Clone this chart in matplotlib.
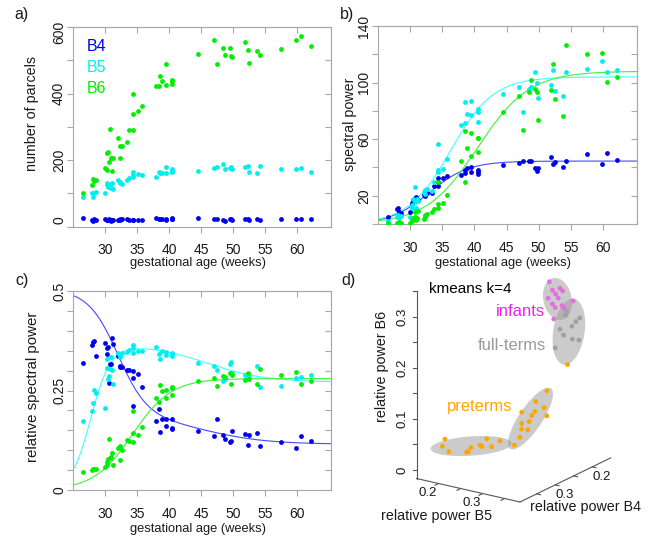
import numpy as np
import matplotlib.pyplot as plt
from matplotlib.patches import Ellipse
from matplotlib.transforms import ScaledTranslation

plt.rcParams['font.family'] = ['Liberation Sans', 'DejaVu Sans']

# gestational age of each recording (weeks)
age = [26.6, 27.9, 28.1, 28.3, 28.6, 30.0, 30.3, 30.3, 30.5, 30.7,
       30.8, 30.9, 31.1, 31.2, 32.1, 32.3, 32.3, 32.7, 33.4, 33.75,
       34.4, 34.4, 34.4, 35.1, 35.7, 37.9, 38.5, 38.6, 38.9, 39.5,
       39.5, 40.5, 40.5, 40.5, 44.5, 47.0, 47.5, 48.5, 48.75, 49.5,
       49.7, 49.9, 51.9, 52.3, 52.5, 53.8, 54.2, 57.5, 59.8, 60.6, 62.2]

# a) number of parcels
parc_b4 = [26, 20, 17, 22, 21, 22, 21, 20, 19, 22, 20, 18, 21, 19, 21, 22, 20, 22, 23, 21,
           20, 19, 21, 19, 20, 25, 24, 23, 22, 22, 21, 24, 23, 25, 25, 24, 22, 20, 18, 22,
           24, 21, 24, 22, 19, 23, 21, 24, 23, 22, 23]
parc_b5 = [90, 100, 90, 102, 105, 102, 130, 125, 120, 118, 125, 115, 132, 112, 140, 132, 135, 128, 140, 145,
           155, 165, 150, 158, 155, 150, 165, 162, 162, 180, 160, 172, 165, 168, 168, 175, 178, 188, 172, 175,
           180, 172, 180, 182, 165, 162, 182, 172, 172, 175, 163]
parc_b6 = [102, 125, 143, 137, 139, 175, 169, 220, 223, 195, 295, 205, 168, 207, 268, 243, 207, 242, 255, 290,
           338, 400, 292, 347, 363, 423, 423, 452, 437, 490, 425, 442, 430, 437, 520, 560, 490, 538, 516, 537,
           512, 509, 555, 531, 493, 529, 516, 535, 560, 573, 542]

# b) spectral power
pow_b4 = [5.2, 10.4, 11, 8.2, 7.5, 8.7, 13.9, 15, 17, 18.6, 16, 19, 18, 17, 20.5, 21, 19.5, 21.7, 21.7, 27,
          27, 32.3, 30, 32.3, 33.9, 34.6, 38.2, 35.8, 39.8, 40.5, 37, 38.2, 37, 35.4, 41.7, 43.1, 44.8, 44.5,
          44.8, 39.4, 37.7, 39.8, 47.6, 42.2, 43.6, 40.5, 44.8, 49.3, 42.4, 50.4, 45.5]
pow_b5 = [2.1, 5.2, 6.4, 4, 5.5, 5.2, 11, 13.4, 17.4, 15.3, 25.9, 11.5, 18, 16, 22.9, 24, 21, 24.7, 23, 30,
          36.5, 56.3, 38.2, 38.9, 46, 70, 71.6, 86, 77.5, 87, 77, 79.4, 81, 72.4, 91.9, 97.1, 79.4, 95.5,
          97.1, 107.7, 100, 89.1, 98.3, 108.9, 94.3, 90.5, 107.2, 109.6, 115.2, 107.2, 108.9]
pow_b6 = [0.5, 1, 1, 1.2, 0.8, 0.5, 2, 3, 4, 5, 8.7, 3, 4, 9, 3.5, 6.4, 5, 7, 8.7, 10.4,
          11, 30, 14, 14.6, 20.5, 44.8, 30, 65.8, 53.5, 64.1, 48, 61, 60.6, 51.1, 79, 90.5, 66.5, 93.6,
          102, 95.5, 93.1, 73.5, 94.7, 113.4, 88.6, 76.4, 126.6, 120.4, 121.1, 100.2, 103.7]

# c) relative spectral power
rel_b4 = [0.319, 0.364, 0.371, 0.375, 0.3375, 0.369, 0.358, 0.342, 0.36, 0.269, 0.317, 0.317, 0.381, 0.367,
          0.3375, 0.3125, 0.31, 0.31, 0.302, 0.302, 0.281, 0.211, 0.3, 0.292, 0.26, 0.173, 0.2025, 0.146,
          0.179, 0.161, 0.1775, 0.157, 0.179, 0.1525, 0.148, 0.136, 0.1775, 0.1375, 0.129, 0.121, 0.1225,
          0.1475, 0.14, 0.1125, 0.139, 0.144, 0.111, 0.121, 0.106, 0.135, 0.1225]
rel_b5 = [0.1725, 0.1975, 0.219, 0.2525, 0.243, 0.206, 0.306, 0.329, 0.279, 0.2875, 0.304, 0.333, 0.3025,
          0.267, 0.344, 0.336, 0.333, 0.344, 0.3475, 0.352, 0.364, 0.344, 0.358, 0.35, 0.35, 0.36, 0.342,
          0.329, 0.35, 0.3475, 0.34, 0.342, 0.3375, 0.344, 0.318, 0.3125, 0.302, 0.275, 0.28, 0.317, 0.321,
          0.295, 0.29, 0.283, 0.29, 0.3125, 0.258, 0.2625, 0.281, 0.283, 0.289]
rel_b6 = [0.044, 0.05, 0.0525, 0.0525, 0.0525, 0.058, 0.064, 0.071, 0.079, 0.129, 0.081, 0.083, 0.094,
          0.064, 0.106, 0.075, 0.11, 0.1, 0.125, 0.1225, 0.121, 0.1975, 0.142, 0.1375, 0.158, 0.231, 0.221,
          0.264, 0.2475, 0.2525, 0.2317, 0.256, 0.239, 0.258, 0.275, 0.281, 0.2625, 0.2875, 0.285, 0.294,
          0.267, 0.29, 0.2775, 0.294, 0.279, 0.267, 0.304, 0.289, 0.296, 0.267, 0.275]

# fitted curves: a + b1/(1+exp(-k1(x-x1))) + b2/(1+exp(-k2(x-x2)))
fit_pow = [[0, 44.5, 0.33, 33.0, 0, 1, 0],
           [0, 104, 0.30, 36.3, 0, 1, 0],
           [0, 108, 0.25, 40.5, 0, 1, 0]]
fit_rel = [[0.505, -0.32, 0.43, 32.0, -0.07, 0.2, 45.5],
           [0, 0.366, 0.65, 27.8, -0.095, 0.22, 46.0],
           [0, 0.28, 0.33, 34.3, 0, 1, 0]]

# d) relative power per subject, kmeans clusters
d_b5 = [0.185, 0.179, 0.194, 0.238, 0.244, 0.265, 0.280, 0.269, 0.291, 0.310, 0.234,
        0.366, 0.309, 0.341, 0.360, 0.339, 0.332, 0.366, 0.326, 0.309, 0.323, 0.305, 0.292, 0.309,
        0.327, 0.325, 0.357, 0.348, 0.339, 0.312, 0.320, 0.340, 0.355, 0.301, 0.329,
        0.229, 0.236, 0.253, 0.259, 0.243, 0.226, 0.249, 0.236, 0.242, 0.258, 0.283, 0.263, 0.239]
d_b4 = [0.36] * 11 + [0.30] * 13 + [0.20] * 11 + [0.13] * 13
d_b6 = [0.055, 0.040, 0.032, 0.041, 0.050, 0.059, 0.074, 0.057, 0.061, 0.076, 0.039,
        0.164, 0.111, 0.138, 0.130, 0.118, 0.109, 0.115, 0.096, 0.089, 0.079, 0.061, 0.043, 0.078,
        0.276, 0.269, 0.270, 0.261, 0.250, 0.239, 0.229, 0.225, 0.226, 0.200, 0.173,
        0.291, 0.276, 0.283, 0.279, 0.270, 0.258, 0.263, 0.249, 0.243, 0.250, 0.264, 0.246, 0.220]
d_group = ['pre'] * 24 + ['full'] * 10 + ['pre'] + ['inf'] * 13
d_cluster = [0] * 11 + [1] * 13 + [2] * 11 + [3] * 13

band_col = ['#0000ee', '#00eeee', '#00ee00']
curve_col = ['#4848ff', '#40ffff', '#40f040']
grp_col = {'pre': '#ffa500', 'full': '#a0a0a0', 'inf': '#e070e0'}
FRAME = '#a8a8a8'
TXT = '#1a1a1a'
PT = 12  # marker area

W, H = 655, 537
fig = plt.figure(figsize=(W / 100, H / 100), dpi=100)


def box(l, t, r, b):
    return [l / W, 1 - b / H, (r - l) / W, (b - t) / H]


def sig(x, p):
    a, b1, k1, x1, b2, k2, x2 = p
    return a + b1 / (1 + np.exp(-k1 * (x - x1))) + b2 / (1 + np.exp(-k2 * (x - x2)))


def style(ax, ylim, yt, ylab):
    xt = [30, 35, 40, 45, 50, 55, 60]
    ax.set_xlim(25, 65.3)
    ax.set_ylim(ylim)
    ax.set_xticks(xt)
    ax.set_yticks(yt)
    ax.set_yticklabels(ylab, rotation=90, va='center')
    for s in ax.spines.values():
        s.set_color(FRAME)
        s.set_linewidth(0.8)
    ax.tick_params(direction='out', length=4, width=0.8, color=FRAME,
                   labelsize=10, labelcolor=TXT)
    ax.tick_params(axis='x', pad=8)
    ax.tick_params(axis='y', pad=1)
    top = ax.secondary_xaxis('top')
    top.set_xticks(xt)
    top.set_xticklabels([])
    top.tick_params(direction='in', length=4, width=0.8, color=FRAME)
    top.spines['top'].set_color(FRAME)
    right = ax.secondary_yaxis('right')
    right.set_yticks(yt)
    right.set_yticklabels([])
    right.tick_params(direction='in', length=4, width=0.8, color=FRAME)
    right.spines['right'].set_color(FRAME)


xs = np.linspace(25, 65.3, 300)

# ---- a) ----
axA = fig.add_axes(box(73, 27, 331, 226.7))
for vals, c in zip([parc_b4, parc_b5, parc_b6], band_col):
    axA.scatter(age, vals, s=PT, color=c, linewidths=0, zorder=3)
style(axA, (0, 600), np.arange(0, 601, 100), ['0', '', '200', '', '400', '', '600'])
# end labels sit a little inside the frame
labs = axA.get_yticklabels()
labs[0].set_transform(labs[0].get_transform() + ScaledTranslation(0, 5 / 72, fig.dpi_scale_trans))
labs[-1].set_transform(labs[-1].get_transform() + ScaledTranslation(0, -4 / 72, fig.dpi_scale_trans))
for i, (name, c) in enumerate(zip(['B4', 'B5', 'B6'], band_col)):
    axA.text(0.054, 0.9 - i * 0.103, name, color=c, fontsize=11.5,
             transform=axA.transAxes, va='center', ha='left')

# ---- b) ----
axB = fig.add_axes(box(378, 26, 637, 224))
for vals, p, c, lc in zip([pow_b4, pow_b5, pow_b6], fit_pow, band_col, curve_col):
    axB.plot(xs, sig(xs, p), color=lc, lw=0.8, zorder=2)
    axB.scatter(age, vals, s=PT, color=c, linewidths=0, zorder=3)
style(axB, (0, 140), np.arange(0, 141, 20), ['', '20', '', '60', '', '100', '', '140'])

# ---- c) ----
axC = fig.add_axes(box(73, 291, 331, 490))
for vals, p, c, lc in zip([rel_b4, rel_b5, rel_b6], fit_rel, band_col, curve_col):
    axC.plot(xs, sig(xs, p), color=lc, lw=0.8, zorder=2)
    axC.scatter(age, vals, s=PT, color=c, linewidths=0, zorder=3)
clab = ['' for _ in range(11)]
clab[0], clab[5], clab[10] = '0', '0.25', '0.5'
style(axC, (0, 0.5), np.linspace(0, 0.5, 11), clab)

# ---- overlay in pixel units (labels + panel d) ----
ov = fig.add_axes([0, 0, 1, 1])
ov.set_xlim(0, W)
ov.set_ylim(H, 0)
ov.axis('off')

for t, x, y in [('a)', 21.7, 15), ('b)', 346.7, 15), ('c)', 21.7, 280), ('d)', 348.3, 280)]:
    ov.text(x, y, t, fontsize=11.5, color=TXT, ha='center', va='center')
ov.text(31.7, 113.3, 'number of parcels', rotation=90, fontsize=10.3, color=TXT, ha='center', va='center')
ov.text(350, 124, 'spectral power', rotation=90, fontsize=10.3, color=TXT, ha='center', va='center')
ov.text(33.3, 387, 'relative spectral power', rotation=90, fontsize=10.8, color=TXT, ha='center', va='center')
for x, y in [(198, 263), (503.3, 263), (197.7, 529)]:
    ov.text(x, y, 'gestational age (weeks)', fontsize=9.3, color=TXT, ha='center', va='center')

# projection of (B5, B4, B6) onto the page
B5_LIM = (0.15, 0.385)
B4_LIM = (0.15, 0.395)
B6_LIM = (-0.0167, 0.35)


def proj(b5, b4, b6):
    b5, b4, b6 = np.asarray(b5, float), np.asarray(b4, float), np.asarray(b6, float)
    u = 520 + 440 * (b5 - B5_LIM[1]) - 370 * (b4 - B4_LIM[1])
    v = 502 + 100 * (b5 - B5_LIM[1]) + 180 * (b4 - B4_LIM[1]) - 510 * (b6 - B6_LIM[0])
    return u, v


AXC = '#555555'
# axes lines
ov.plot(*proj([B5_LIM[0]] * 2, [B4_LIM[1]] * 2, [B6_LIM[0], B6_LIM[1]]), color=AXC, lw=0.8)
ov.plot(*proj([B5_LIM[0], B5_LIM[1]], [B4_LIM[1]] * 2, [B6_LIM[0]] * 2), color=AXC, lw=0.8)
ov.plot(*proj([B5_LIM[1]] * 2, [B4_LIM[1], B4_LIM[0]], [B6_LIM[0]] * 2), color=AXC, lw=0.8)

for t in np.arange(0, 0.351, 0.05):
    u, v = proj(B5_LIM[0], B4_LIM[1], t)
    ov.plot([u, u - 4], [v, v], color=AXC, lw=0.8)
for t in [0, 0.1, 0.2, 0.3]:
    u, v = proj(B5_LIM[0], B4_LIM[1], t)
    ov.text(u - 14, v, '0' if t == 0 else f'{t:.1f}', rotation=90, fontsize=9.5,
            color=TXT, ha='center', va='center')
for t in [0.2, 0.25, 0.3, 0.35]:
    u, v = proj(t, B4_LIM[1], B6_LIM[0])
    ov.plot([u, u - 3.6], [v, v + 1.8], color=AXC, lw=0.8)
    if t in (0.2, 0.3):
        ov.text(u - 10.5, v + 9.5, f'{t:.1f}', fontsize=9.5, color=TXT, ha='center', va='center')
for t in [0.2, 0.25, 0.3, 0.35]:
    u, v = proj(B5_LIM[1], t, B6_LIM[0])
    ov.plot([u, u + 3.9], [v, v + 0.9], color=AXC, lw=0.8)
    if t in (0.2, 0.3):
        ov.text(u + 9.7, v + 10.3, f'{t:.1f}', fontsize=9.5, color=TXT, ha='center', va='center')

ov.text(381.7, 366.7, 'relative power B6', rotation=90, fontsize=10.3, color=TXT, ha='center', va='center')
ov.text(436.7, 516, 'relative power B5', fontsize=10.3, color=TXT, ha='center', va='center')
ov.text(585, 507, 'relative power B4', fontsize=10.3, color=TXT, ha='center', va='center')

pu, pv = proj(d_b5, d_b4, d_b6)
clu = np.array(d_cluster)
for k in range(4):
    pts = np.vstack([pu[clu == k], pv[clu == k]])
    cov = np.cov(pts)
    w, vec = np.linalg.eigh(cov)
    ang = np.degrees(np.arctan2(vec[1, 1], vec[0, 1]))
    ov.add_patch(Ellipse(pts.mean(axis=1), 2 * 2.1 * np.sqrt(w[1]), 2 * 2.1 * np.sqrt(w[0]),
                         angle=ang, facecolor='#999999', alpha=0.5, edgecolor='none', zorder=1))
ov.scatter(pu, pv, s=PT, c=[grp_col[g] for g in d_group], linewidths=0, zorder=3)

ov.text(470, 289, 'kmeans k=4', fontsize=11, color='black', ha='center', va='center')
ov.text(520, 311.7, 'infants', fontsize=11.9, color='#ee22ee', ha='center', va='center')
ov.text(511.7, 345.7, 'full-terms', fontsize=11.9, color='#999999', ha='center', va='center')
ov.text(480, 406.7, 'preterms', fontsize=11.9, color='#ffa500', ha='center', va='center')

fig.savefig('out.png', dpi=100)
